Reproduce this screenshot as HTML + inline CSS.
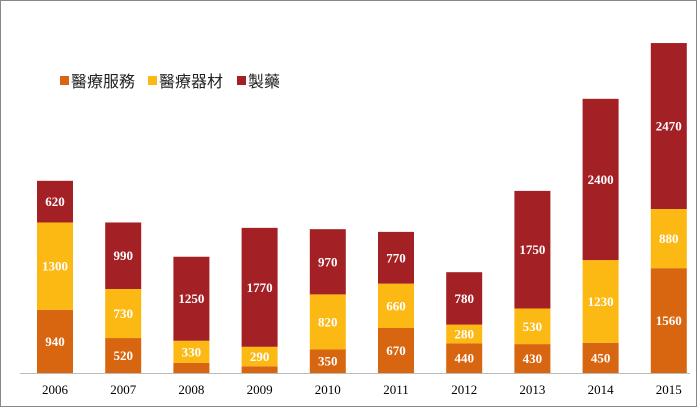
<!DOCTYPE html>
<html><head><meta charset="utf-8"><style>
body{margin:0;background:#fff;}
svg{display:block;}
.v{font-family:"Liberation Serif",serif;font-weight:bold;font-size:13px;fill:#fff;text-anchor:middle;}
.y{font-family:"Liberation Serif",serif;font-size:13px;fill:#000;text-anchor:middle;}
.lg{font-family:"Liberation Sans","Noto Sans CJK TC",sans-serif;font-size:16px;fill:#222;}
</style></head><body>
<svg id="c" width="697" height="407">
<rect x="0.5" y="0.5" width="696" height="406" fill="#fff" stroke="#888"/>
<line x1="20" y1="373.5" x2="690" y2="373.5" stroke="#bbb"/>
<g>
<rect x="60" y="76" width="9" height="9" fill="#D8650F"/>
<text class="lg" x="71" y="87">醫療服務</text>
<rect x="148" y="76" width="9" height="9" fill="#FDB913"/>
<text class="lg" x="159" y="87">醫療器材</text>
<rect x="237" y="76" width="9" height="9" fill="#A32024"/>
<text class="lg" x="248" y="87">製藥</text>
</g>
</svg>
<script>
const years=["2006","2007","2008","2009","2010","2011","2012","2013","2014","2015"];
const services=[940,520,150,100,350,670,440,430,450,1560];
const devices=[1300,730,330,290,820,660,280,530,1230,880];
const pharma=[620,990,1250,1770,970,770,780,1750,2400,2470];
const svg=document.getElementById('c');
const NS="http://www.w3.org/2000/svg";
const base=373, k=0.0672;
function yv(v){return base-v*k;}
function xc(i){return 55+i*68.2;}
const series=[[services,"#D8650F","services",true],[devices,"#FDB913","devices",true],[pharma,"#A32024","pharma",true]];
years.forEach((yr,i)=>{
  let acc=0;
  series.forEach(([arr,col,nm])=>{
    const v=arr[i];
    const r=document.createElementNS(NS,'rect');
    r.setAttribute('x',xc(i)-18);r.setAttribute('width',36);
    r.setAttribute('y',yv(acc+v));r.setAttribute('height',v*k);
    r.setAttribute('fill',col);
    
    
    svg.appendChild(r);
    if(v*k>=15){
      const t=document.createElementNS(NS,'text');
      t.setAttribute('class','v');t.setAttribute('x',xc(i));
      t.setAttribute('y',yv(acc+v/2)+4.5);t.textContent=v;
      
      
      svg.appendChild(t);
    }
    acc+=v;
  });
  const t=document.createElementNS(NS,'text');
  t.setAttribute('class','y');t.setAttribute('x',xc(i));t.setAttribute('y',394);t.textContent=yr;
  
  
  svg.appendChild(t);
});
</script>
</body></html>
